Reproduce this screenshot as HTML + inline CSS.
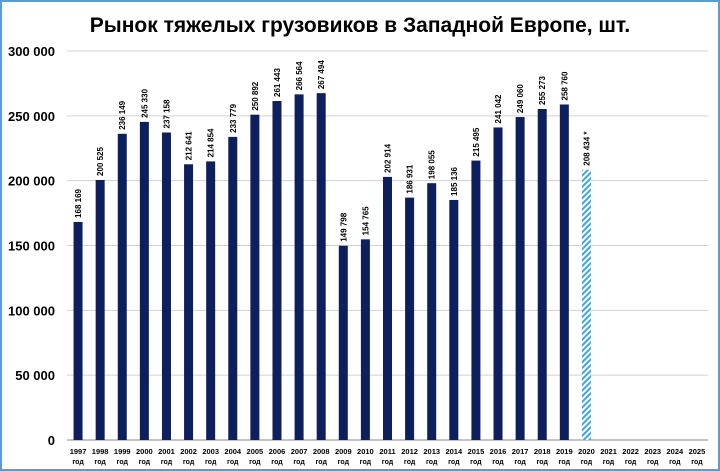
<!DOCTYPE html>
<html><head><meta charset="utf-8"><style>
body{margin:0;background:#fff}
#wrap{position:relative;width:720px;height:471px;box-sizing:border-box;border:2px solid #5b9bd5;background:#fff;font-family:"Liberation Sans",sans-serif}
</style></head><body>
<div id="wrap">
<svg id="chart" width="716" height="467" style="position:absolute;left:0;top:0">
<defs><pattern id="hatch" width="4" height="4" patternUnits="userSpaceOnUse" patternTransform="rotate(45)"><rect width="4" height="4" fill="#fff"/><rect width="2" height="4" fill="#3aa6e8"/></pattern></defs>
<text x="358" y="30" text-anchor="middle" font-size="21" font-weight="bold" fill="#000">Рынок тяжелых грузовиков в Западной Европе, шт.</text>
</svg>
</div>
<script>
const years=["1997","1998","1999","2000","2001","2002","2003","2004","2005","2006","2007","2008","2009","2010","2011","2012","2013","2014","2015","2016","2017","2018","2019","2020","2021","2022","2023","2024","2025"];
const values=[168169,200525,236149,245330,237158,212641,214854,233779,250892,261443,266564,267494,149798,154765,202914,186931,198055,185136,215495,241042,249060,255273,258760,208434,null,null,null,null,null];
const labels=["168 169","200 525","236 149","245 330","237 158","212 641","214 854","233 779","250 892","261 443","266 564","267 494","149 798","154 765","202 914","186 931","198 055","185 136","215 495","241 042","249 060","255 273","258 760","208 434 *"];
const forecast=[23];
const yTicks=[0,50000,100000,150000,200000,250000,300000];
const yTickLabels=["0","50 000","100 000","150 000","200 000","250 000","300 000"];
const svg=document.getElementById('chart');const NS="http://www.w3.org/2000/svg";
const x0=65,x1=706,y0=438,y1=49;
const yS=v=>y0-(v/300000)*(y0-y1);
const step=(x1-x0)/years.length;
const xS=i=>x0+step*(i+0.5);
function mk(t,a){const e=document.createElementNS(NS,t);for(const k in a)e.setAttribute(k,a[k]);svg.appendChild(e);return e;}
yTicks.forEach((v,i)=>{
 const g=mk('line',{x1:x0,x2:x1,y1:yS(v),y2:yS(v),stroke:i==0?'#888':'#d0d0d0','stroke-width':1});
 
 
 const t=mk('text',{x:53,y:yS(v)+5,'text-anchor':'end','font-size':13,'font-weight':'bold',fill:'#000'});
 t.textContent=yTickLabels[i];
 
 
});
years.forEach((y,i)=>{
 const cx=xS(i);
 const t=mk('text',{x:cx,y:452,'text-anchor':'middle','font-size':7.5,'font-weight':'bold',fill:'#000'});
 t.textContent=y;
 
 
 const t2=mk('text',{x:cx,y:462,'text-anchor':'middle','font-size':7,'font-weight':'bold',fill:'#000'});
 t2.textContent='год';
 
 
 const v=values[i];if(v==null)return;
 const isF=forecast.includes(i);
 const r=mk('rect',{x:cx-4.5,y:yS(v),width:9,height:y0-yS(v),fill:isF?'url(#hatch)':'#0d1f5c'});
 
 
 const lx=cx+3,ly=yS(v)-4;
 const l=mk('text',{x:lx,y:ly,transform:`rotate(-90 ${lx} ${ly})`,'font-size':8,'font-weight':'bold',fill:'#000'});
 l.textContent=labels[i];
 
 
});
</script>
</body></html>
